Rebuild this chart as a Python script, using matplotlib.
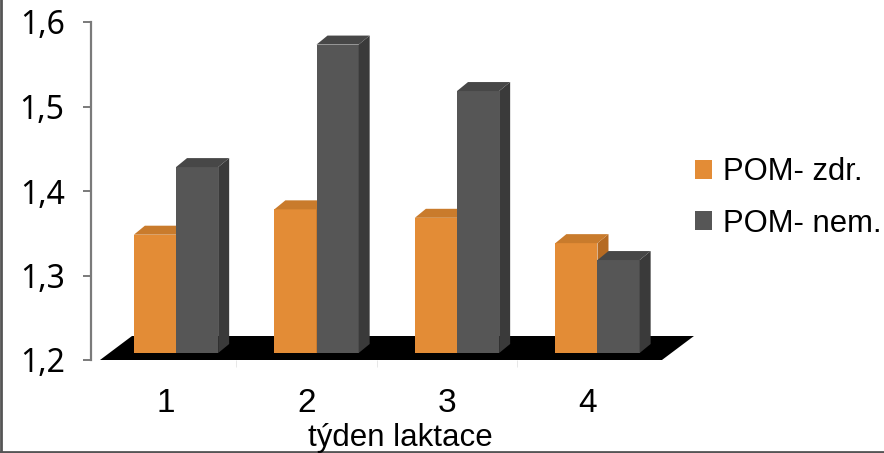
import numpy as np
import matplotlib.pyplot as plt
from matplotlib.patches import Polygon, Patch

weeks = ['1', '2', '3', '4']
pom_zdr = [1.34, 1.37, 1.36, 1.33]
pom_nem = [1.42, 1.565, 1.51, 1.31]
series_names = ['POM- zdr.', 'POM- nem.']
y_ticks = [1.2, 1.3, 1.4, 1.5, 1.6]
y_tick_labels = ['1,2', '1,3', '1,4', '1,5', '1,6']
x_title = 'týden laktace'

# (front, side, top) shades per series
shades = [('#e38c36', '#b56a22', '#c97b2c'),
          ('#565656', '#3a3a3a', '#474747')]

W, H = 884, 453
fig = plt.figure(figsize=(W / 100, H / 100), dpi=100)
ax = fig.add_axes([91 / W, 93 / H, 602 / W, 338 / H])
ax.set_xlim(0.466, 4.751)
ax.set_ylim(1.2, 1.6)

# pixel sizes -> data units
sx = 602 / (4.751 - 0.466)
sy = 338 / 0.4


def px(dx, dy):
    return dx / sx, dy / sy


x = np.arange(1, len(weeks) + 1)
base = 1.2

# black floor under the columns
fdx, fdy = px(32, 24)
x0, x1 = x[0] - 0.47, x[-1] + 0.53
ax.add_patch(Polygon([(x0, base), (x1, base), (x1 + fdx, base + fdy), (x0 + fdx, base + fdy)],
                     closed=True, facecolor='black', edgecolor='none', zorder=1, clip_on=False))

# columns: front face with bar(), side and top as polygons
ox, oy = px(10, 7)
ddx, ddy = px(11, 9)
w = 0.3
for k, vals in enumerate([pom_zdr, pom_nem]):
    front, side, top = shades[k]
    lefts = x - w + k * w + ox
    ax.bar(lefts, np.array(vals) - base, bottom=base + oy, width=w, align='edge',
           color=front, edgecolor='none', zorder=3 + k)
    for l, v in zip(lefts, vals):
        r = l + w
        b = base + oy
        t = v + oy
        ax.add_patch(Polygon([(r, b), (r, t), (r + ddx, t + ddy), (r + ddx, b + ddy)],
                             closed=True, facecolor=side, edgecolor='none', zorder=3 + k))
        ax.add_patch(Polygon([(l, t), (r, t), (r + ddx, t + ddy), (l + ddx, t + ddy)],
                             closed=True, facecolor=top, edgecolor='none', zorder=3 + k))

# axes styling
for s in ['top', 'right', 'bottom']:
    ax.spines[s].set_visible(False)
ax.spines['left'].set_color('#7a7a7a')
ax.spines['left'].set_linewidth(1.6)
ax.set_yticks(y_ticks)
ax.set_yticklabels(y_tick_labels, fontsize=23, family='Noto Sans')
ax.tick_params(axis='y', length=6, width=1.4, color='#7a7a7a', pad=13)
ax.set_xticks(x)
ax.set_xticklabels(weeks, fontsize=24, family='Liberation Sans')
ax.set_xticks(x[:-1] + 0.5, minor=True)
ax.tick_params(axis='x', which='major', length=0, pad=20)
ax.tick_params(axis='x', which='minor', length=5, color='#e4e4e4')

fig.text(400 / W, 7 / H, x_title, ha='center', va='baseline', fontsize=22.5, family='Liberation Sans')

handles = [Patch(facecolor=shades[k][0], edgecolor='none') for k in range(2)]
fig.legend(handles, series_names, loc='center left', bbox_to_anchor=(695 / W, 255 / H),
           frameon=False, prop={'family': 'Liberation Sans', 'size': 22.3},
           handlelength=0.55, handleheight=0.55, handletextpad=0.35, labelspacing=0.68,
           borderpad=0, borderaxespad=0)

# thin frame on the left and bottom of the picture
fig.add_artist(plt.Line2D([0.001, 0.001], [0, 1], color='#555555', lw=2, transform=fig.transFigure))
fig.add_artist(plt.Line2D([0, 1], [0.003, 0.003], color='#555555', lw=2, transform=fig.transFigure))

fig.savefig('out.png', dpi=100)
